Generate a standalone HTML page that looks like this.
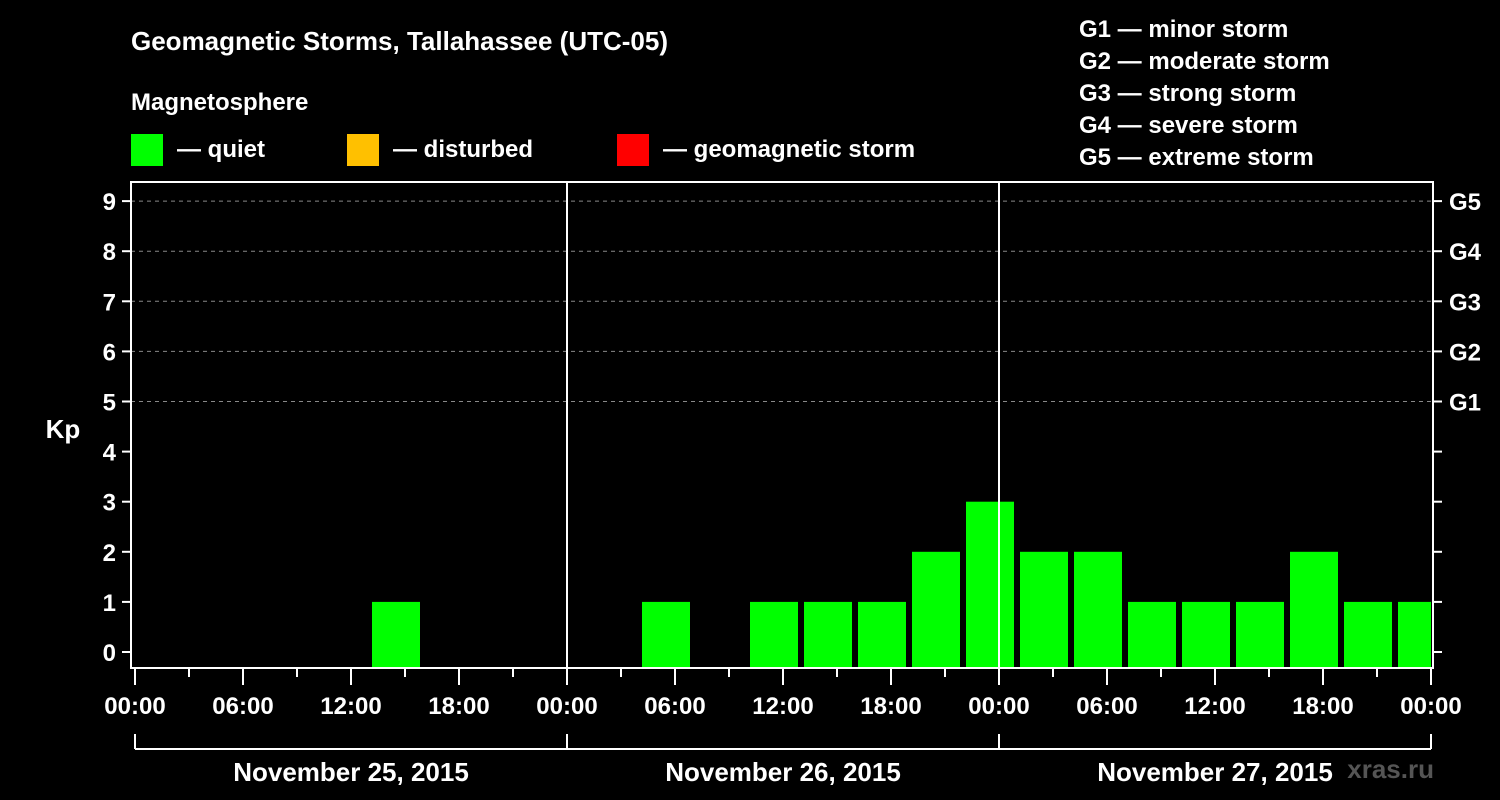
<!DOCTYPE html>
<html><head><meta charset="utf-8"><style>
html,body{margin:0;padding:0;background:#000;}
svg{display:block;font-family:"Liberation Sans",Arial,sans-serif;font-weight:bold;}
</style></head><body>
<svg id="chart" width="1500" height="800" viewBox="0 0 1500 800">
<text x="131" y="50" fill="#fff" font-size="26">Geomagnetic Storms, Tallahassee (UTC-05)</text>
<text x="131" y="110" fill="#fff" font-size="24">Magnetosphere</text>
<g><rect x="131" y="134" width="32" height="32" fill="#00ff00"/><text x="177" y="157" fill="#fff" font-size="24">— quiet</text></g>
<g><rect x="347" y="134" width="32" height="32" fill="#ffc000"/><text x="393" y="157" fill="#fff" font-size="24">— disturbed</text></g>
<g><rect x="617" y="134" width="32" height="32" fill="#ff0000"/><text x="663" y="157" fill="#fff" font-size="24">— geomagnetic storm</text></g>
<g fill="#fff" font-size="24">
<text x="1079" y="37">G1 — minor storm</text>
<text x="1079" y="69">G2 — moderate storm</text>
<text x="1079" y="101">G3 — strong storm</text>
<text x="1079" y="133">G4 — severe storm</text>
<text x="1079" y="165">G5 — extreme storm</text>
</g>
<text x="63" y="438" fill="#fff" font-size="26" text-anchor="middle">Kp</text>
<text x="1434" y="778" fill="#555" font-size="26" text-anchor="end">xras.ru</text>
<g id="plot"></g>
</svg>
<script>
const kpValues = [0,0,0,0,1,0,0,0, 0,1,0,1,1,1,2,3, 2,2,1,1,1,2,1,1];
const kpTicks = ["0","1","2","3","4","5","6","7","8","9"];
const gLabels = ["G1","G2","G3","G4","G5"];
const timeLabels = ["00:00","06:00","12:00","18:00","00:00","06:00","12:00","18:00","00:00","06:00","12:00","18:00","00:00"];
const dateLabels = ["November 25, 2015","November 26, 2015","November 27, 2015"];

const NS="http://www.w3.org/2000/svg";
const g=document.getElementById('plot');
const X0=135, X1=1431, HOURS=72, BOXL=131, BOXR=1433, BOXT=182, BOXB=668;
const xH=h=>X0+(X1-X0)*h/HOURS;
const yK=k=>652-k*50.1;
function el(t,a,p){const e=document.createElementNS(NS,t);for(const k in a)e.setAttribute(k,a[k]);(p||g).appendChild(e);return e;}
// grid
for(let k=5;k<=9;k++){
  const l=el('line',{x1:BOXL,x2:BOXR,y1:yK(k),y2:yK(k),stroke:'#888','stroke-dasharray':'4,4','stroke-width':1});
  
  
}
// bars
kpValues.forEach((v,i)=>{
  if(v<=0)return;
  const h0=1+3*i;
  const x=xH(h0)+3, w=Math.min(xH(h0+3)-3,X1)-x;
  const r=el('rect',{x:x,y:yK(v),width:w,height:BOXB-yK(v),fill:'#00ff00'});
  
  
});
// day separators
[24,48].forEach(h=>{
  const l=el('line',{x1:xH(h),x2:xH(h),y1:BOXT,y2:BOXB,stroke:'#fff','stroke-width':2});
  
  
});
// box
const box=el('rect',{x:BOXL,y:BOXT,width:BOXR-BOXL,height:BOXB-BOXT,fill:'none',stroke:'#fff','stroke-width':2});


// y ticks
kpTicks.forEach((t,k)=>{
  el('line',{x1:122,x2:BOXL,y1:yK(k),y2:yK(k),stroke:'#fff','stroke-width':2});
  el('line',{x1:BOXR,x2:1442,y1:yK(k),y2:yK(k),stroke:'#fff','stroke-width':2});
  const tx=el('text',{x:116,y:yK(k)+9,fill:'#fff','font-size':24,'text-anchor':'end'});
  tx.textContent=t;
  
  
});
gLabels.forEach((t,i)=>{
  const tx=el('text',{x:1449,y:yK(5+i)+9,fill:'#fff','font-size':24});
  tx.textContent=t;
  
  
});
// x ticks
for(let h=0;h<=HOURS;h+=3){
  const major=h%6===0;
  el('line',{x1:xH(h),x2:xH(h),y1:BOXB+1,y2:BOXB+(major?17:9),stroke:'#fff','stroke-width':2});
}
timeLabels.forEach((t,i)=>{
  const tx=el('text',{x:xH(i*6),y:714,fill:'#fff','font-size':24,'text-anchor':'middle'});
  tx.textContent=t;
  
  
});
// date brackets
el('line',{x1:X0,x2:X1,y1:749,y2:749,stroke:'#fff','stroke-width':2});
for(let d=0;d<=3;d++)el('line',{x1:xH(d*24),x2:xH(d*24),y1:734,y2:749,stroke:'#fff','stroke-width':2});
dateLabels.forEach((t,i)=>{
  const tx=el('text',{x:xH(i*24+12),y:781,fill:'#fff','font-size':26,'text-anchor':'middle'});
  tx.textContent=t;
  
  
});
</script>
</body></html>
